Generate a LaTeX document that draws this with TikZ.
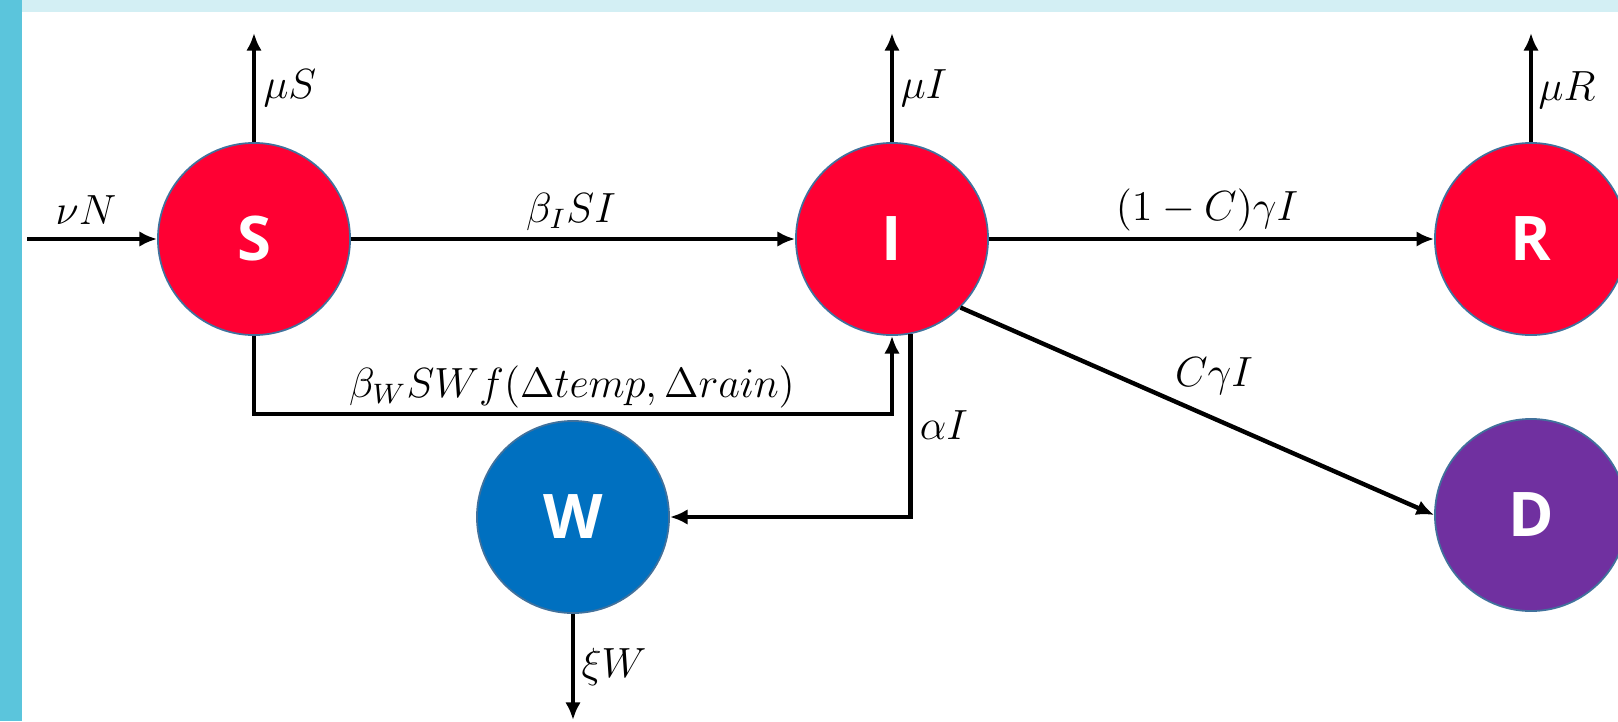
\documentclass[tikz,border=0pt]{standalone}
\usepackage{fontspec}
\newfontfamily\compfont{Open Sans}
\usetikzlibrary{arrows.meta,positioning}
\definecolor{infred}{HTML}{FF0033}
\definecolor{waterblue}{HTML}{0070C0}
\definecolor{deadpurple}{HTML}{7030A0}
\definecolor{rim}{HTML}{41719C}
\definecolor{sidebar}{HTML}{5BC5DC}
\definecolor{topbar}{HTML}{D3EFF4}

\begin{document}
\begin{tikzpicture}[
  x=0.01cm,
  y=-0.01cm,
  >={Latex[length=5pt,width=4.4pt]},
  compartment/.style={
    circle,
    draw=rim,
    line width=0.5pt,
    minimum size=1.92cm,
    inner sep=0pt,
    text=white,
    font=\compfont\bfseries\fontsize{17.5}{20}\selectfont
  },
  flow/.style={
    ->,
    line width=1.25pt
  },
  rate/.style={
    inner sep=0pt,
    font=\fontsize{11.5}{14}\selectfont
  }
]
\useasboundingbox (0,0) rectangle (1618,721);
\clip (0,0) rectangle (1618,721);

% Slide frame
\fill[sidebar] (0,0) rectangle (22,721);
\fill[topbar] (22,0) rectangle (1618,12);

% Compartments
\node[compartment,fill=infred] (S) at (254,239) {S};
\node[compartment,fill=infred] (I) at (892,239) {I};
\node[compartment,fill=infred] (R) at (1531,239) {R};
\node[compartment,fill=waterblue] (W) at (573,517) {W};
\node[compartment,fill=deadpurple] (D) at (1531,515) {D};

% Free ends of the inflow and outflows
\coordinate (birth) at (27,239);
\coordinate (Sout) at (254,33);
\coordinate (Iout) at (892,33);
\coordinate (Rout) at (1531,33);
\coordinate (Wout) at (573,720);

% Flows
\draw[flow] (birth) -- (S.west);
\draw[flow] (S.north) -- (Sout);
\draw[flow] (I.north) -- (Iout);
\draw[flow] (R.north) -- (Rout);
\draw[flow] (W.south) -- (Wout);
\draw[flow] (S.east) -- (I.west);
\draw[flow] (I.east) -- (R.west);
\draw[flow] (S.south) -- ++(0,78) -| (I.south);
\draw[flow] (I.-79) |- (W.east);
\draw[flow] (I.south east) -- (D.west);

% Rates
\node[rate] (nuN) at (86,210) {$\nu N$};
\node[rate] (muS) at (290,88) {$\mu S$};
\node[rate] (muI) at (924,88) {$\mu I$};
\node[rate] (muR) at (1567,90) {$\mu R$};
\node[rate] (betaI) at (571,212) {$\beta_I SI$};
\node[rate] (recov) at (1207,210) {$(1-C)\gamma I$};
\node[rate] (betaW) at (572,387) {$\beta_W SWf(\Delta temp,\Delta rain)$};
\node[rate] (alphaI) at (944,425) {$\alpha I$};
\node[rate] (death) at (1214,376) {$C\gamma I$};
\node[rate] (xiW) at (614,667) {$\xi W$};

\end{tikzpicture}
\end{document}
